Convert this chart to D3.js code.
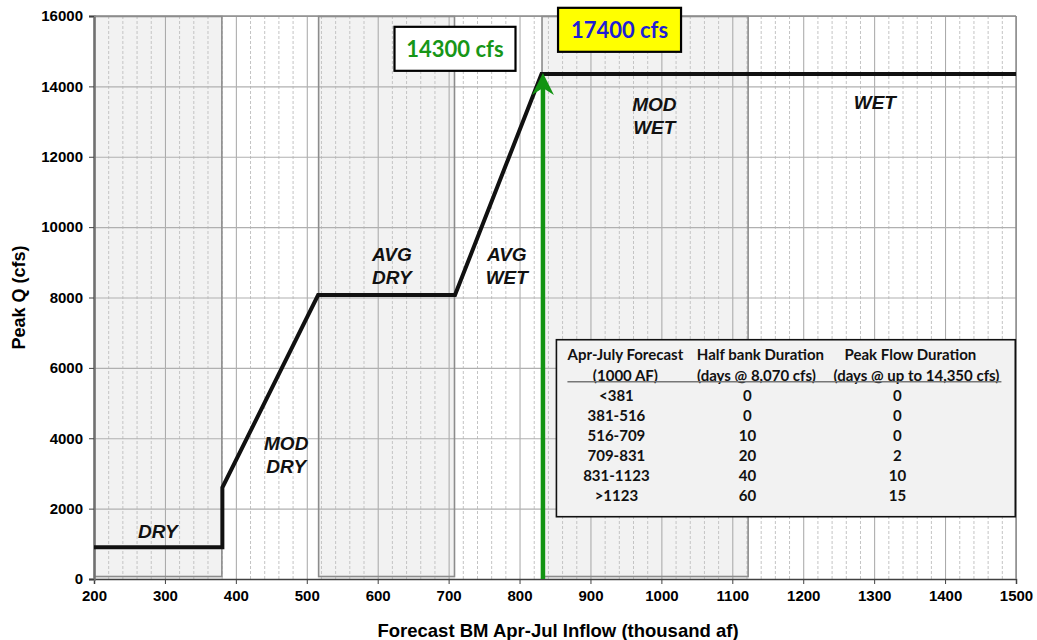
<!DOCTYPE html>
<html><head><meta charset="utf-8">
<script src="https://cdn.jsdelivr.net/npm/d3@7/dist/d3.min.js"></script>
<style>body{margin:0;background:#fff}svg{display:block}</style>
</head><body><svg id="c" width="1037" height="640"></svg>
<script>
// ---- data ----
const curveX = [200, 381, 381, 516, 709, 831, 1500];
const curveY = [900, 900, 2600, 8070, 8070, 14350, 14350];
const zoneBreaks = [200, 381, 516, 709, 831, 1123, 1500];
const zoneShaded = [true, false, true, false, true, false];
const zoneLabels = [["DRY"], ["MOD", "DRY"], ["AVG", "DRY"], ["AVG", "WET"], ["MOD", "WET"], ["WET"]];
const zoneLabelX = [290, 471, 620, 782, 990, 1301];
const zoneLabelY = [1365, 3527, 8918, 8918, 13184, 13568];
const forecastX = 833;
const forecastPeak = 14350;
const xTicks = [200, 300, 400, 500, 600, 700, 800, 900, 1000, 1100, 1200, 1300, 1400, 1500];
const yTicks = [0, 2000, 4000, 6000, 8000, 10000, 12000, 14000, 16000];
const tableHead1 = ["Apr-July Forecast", "Half bank Duration", "Peak Flow Duration"];
const tableHead2 = ["(1000 AF)", "(days @ 8,070 cfs)", "(days @ up to 14,350 cfs)"];
const forecastRanges = ["<381", "381-516", "516-709", "709-831", "831-1123", ">1123"];
const halfBankDays = [0, 0, 10, 20, 40, 60];
const peakFlowDays = [0, 0, 0, 2, 10, 15];
const callout1 = "14300 cfs";
const callout2 = "17400 cfs";

// ---- layout ----
const svg = d3.select("#c");
const L = 94, R = 1016, T = 16, B = 579;
const x = d3.scaleLinear().domain([200, 1500]).range([L, R]);
const y = d3.scaleLinear().domain([0, 16000]).range([B, T]);
const ARIAL = "'Liberation Sans', Arial, sans-serif";
const CAL = "Lato, 'Open Sans', sans-serif";

// shaded zones
const zones = d3.range(zoneShaded.length).map(i => ({x0: zoneBreaks[i], x1: zoneBreaks[i + 1], s: zoneShaded[i]}));
svg.append("g").selectAll("rect").data(zones.filter(d => d.s)).join("rect")
  .attr("x", d => x(d.x0)).attr("y", T).attr("width", d => x(d.x1) - x(d.x0)).attr("height", B - T)
  .attr("fill", "#f2f2f2");

// grid
const gridG = svg.append("g");
const minor = d3.range(200, 1501, 20).filter(v => v % 100 !== 0);
gridG.selectAll(".mn").data(minor).join("line")
  .attr("x1", d => x(d) + 0.5).attr("x2", d => x(d) + 0.5).attr("y1", T).attr("y2", B)
  .attr("stroke", "#c4c4c4").attr("stroke-width", 1).attr("stroke-dasharray", "3,2");
gridG.selectAll(".mj").data(xTicks.slice(1)).join("line")
  .attr("x1", d => x(d) + 0.5).attr("x2", d => x(d) + 0.5).attr("y1", T).attr("y2", B)
  .attr("stroke", "#a6a6a6").attr("stroke-width", 1);
gridG.selectAll(".hz").data(yTicks.slice(1)).join("line")
  .attr("x1", L).attr("x2", R).attr("y1", d => y(d) + 0.5).attr("y2", d => y(d) + 0.5)
  .attr("stroke", "#b0b0b0").attr("stroke-width", 1.2);

// zone borders
svg.append("g").selectAll("rect").data(zones.filter(d => d.s)).join("rect")
  .attr("x", d => x(d.x0) + 0.5).attr("y", T + 0.5).attr("width", d => x(d.x1) - x(d.x0) - 1).attr("height", B - T - 3)
  .attr("fill", "none").attr("stroke", "#8c8c8c").attr("stroke-width", 1.6);

// axes
const xAxis = d3.axisBottom(x).tickValues(xTicks).tickSize(5).tickFormat(d3.format("d"));
const gx = svg.append("g").attr("transform", `translate(0,${B})`).call(xAxis);
gx.select(".domain").attr("stroke", "#404040").attr("stroke-width", 1.5);
gx.selectAll(".tick line").attr("stroke", "#404040");
gx.selectAll("text").attr("font-family", ARIAL).attr("font-weight", "bold").attr("font-size", 15).attr("fill", "#000").attr("dy", "0.95em");

const yAxis = d3.axisLeft(y).tickValues(yTicks).tickSize(5).tickFormat(d3.format("d"));
const gy = svg.append("g").attr("transform", `translate(${L},0)`).call(yAxis);
gy.select(".domain").attr("stroke", "#707070").attr("stroke-width", 2.5);
gy.selectAll(".tick line").attr("stroke", "#404040");
gy.selectAll("text").attr("font-family", ARIAL).attr("font-weight", "bold").attr("font-size", 15).attr("fill", "#000").attr("x", -11);

// top/right border
svg.append("line").attr("x1", L).attr("x2", R).attr("y1", T).attr("y2", T).attr("stroke", "#8c8c8c").attr("stroke-width", 1.5);
svg.append("line").attr("x1", R).attr("x2", R).attr("y1", T).attr("y2", B).attr("stroke", "#8c8c8c").attr("stroke-width", 1.5);

// axis titles
svg.append("text").attr("x", 558).attr("y", 637).attr("text-anchor", "middle")
  .attr("font-family", ARIAL).attr("font-weight", "bold").attr("font-size", 18.5).text("Forecast BM Apr-Jul Inflow (thousand af)");
svg.append("text").attr("transform", `translate(25,${(T + B) / 2}) rotate(-90)`).attr("text-anchor", "middle")
  .attr("font-family", ARIAL).attr("font-weight", "bold").attr("font-size", 18).text("Peak Q (cfs)");

// curve
const pts = curveX.map((v, i) => [v, curveY[i]]);
svg.append("path").datum(pts)
  .attr("d", d3.line().x(d => x(d[0])).y(d => y(d[1])))
  .attr("fill", "none").attr("stroke", "#111").attr("stroke-width", 4).attr("stroke-linejoin", "miter");

// zone labels
zones.forEach((z, i) => {
  const lines = zoneLabels[i];
  const t = svg.append("text").attr("text-anchor", "middle")
    .attr("font-family", ARIAL).attr("font-weight", "bold").attr("font-style", "italic").attr("font-size", 19).attr("fill", "#111");
  lines.forEach((ln, k) => {
    t.append("tspan").attr("x", x(zoneLabelX[i]))
      .attr("y", y(zoneLabelY[i]) + (k - (lines.length - 1) / 2) * 23 + 7).text(ln);
  });
});

// green arrow
const ax = x(forecastX), ay = y(forecastPeak) - 1;
svg.append("line").attr("x1", ax).attr("x2", ax).attr("y1", B).attr("y2", ay + 12)
  .attr("stroke", "#129412").attr("stroke-width", 4.5);
svg.append("path").attr("d", `M${ax},${ay} L${ax + 11},${ay + 22} L${ax},${ay + 15} L${ax - 11},${ay + 22} Z`)
  .attr("fill", "#129412");

// table
const tx0 = x(852), tx1 = x(1499), ty0 = y(6800), ty1 = y(1770);
const tg = svg.append("g");
tg.append("rect").attr("x", tx0).attr("y", ty0).attr("width", tx1 - tx0).attr("height", ty1 - ty0)
  .attr("fill", "#f2f2f2").attr("stroke", "#111").attr("stroke-width", 1.6);
const hc1 = [tx0 + 69, tx0 + 204, tx0 + 354];
const hc2 = [tx0 + 69, tx0 + 200, tx0 + 360];
const rc = [tx0 + 60, tx0 + 191, tx0 + 341];
const tstyle = s => s.attr("font-family", CAL).attr("font-weight", "bold").attr("font-size", 15).attr("fill", "#111").attr("text-anchor", "middle");
tableHead1.forEach((h, i) => tstyle(tg.append("text")).attr("x", hc1[i]).attr("y", ty0 + 20).text(h));
tableHead2.forEach((h, i) => tstyle(tg.append("text")).attr("x", hc2[i]).attr("y", ty0 + 41).text(h));
tg.append("line").attr("x1", tx0 + 11).attr("x2", tx0 + 445).attr("y1", ty0 + 42).attr("y2", ty0 + 42)
  .attr("stroke", "#777").attr("stroke-width", 1.5);
forecastRanges.forEach((r, i) => {
  const yy = ty0 + 61 + i * 20;
  tstyle(tg.append("text")).attr("x", rc[0]).attr("y", yy).text(r);
  tstyle(tg.append("text")).attr("x", rc[1]).attr("y", yy).text(halfBankDays[i]);
  tstyle(tg.append("text")).attr("x", rc[2]).attr("y", yy).text(peakFlowDays[i]);
});

// callouts
function callout(cx, cy, w, h, txt, fill, col) {
  svg.append("rect").attr("x", cx - w / 2).attr("y", cy - h / 2).attr("width", w).attr("height", h)
    .attr("fill", fill).attr("stroke", "#000").attr("stroke-width", 2.2);
  svg.append("text").attr("x", cx).attr("y", cy + 8).attr("text-anchor", "middle")
    .attr("font-family", CAL).attr("font-weight", "bold").attr("font-size", 22).attr("fill", col).text(txt);
}
callout(x(709), y(14300) - 27, 121, 44, callout1, "#fff", "#179617");
callout(x(941), y(14300) - 46, 123, 44, callout2, "#ffff00", "#1f1fd6");
</script></body></html>
